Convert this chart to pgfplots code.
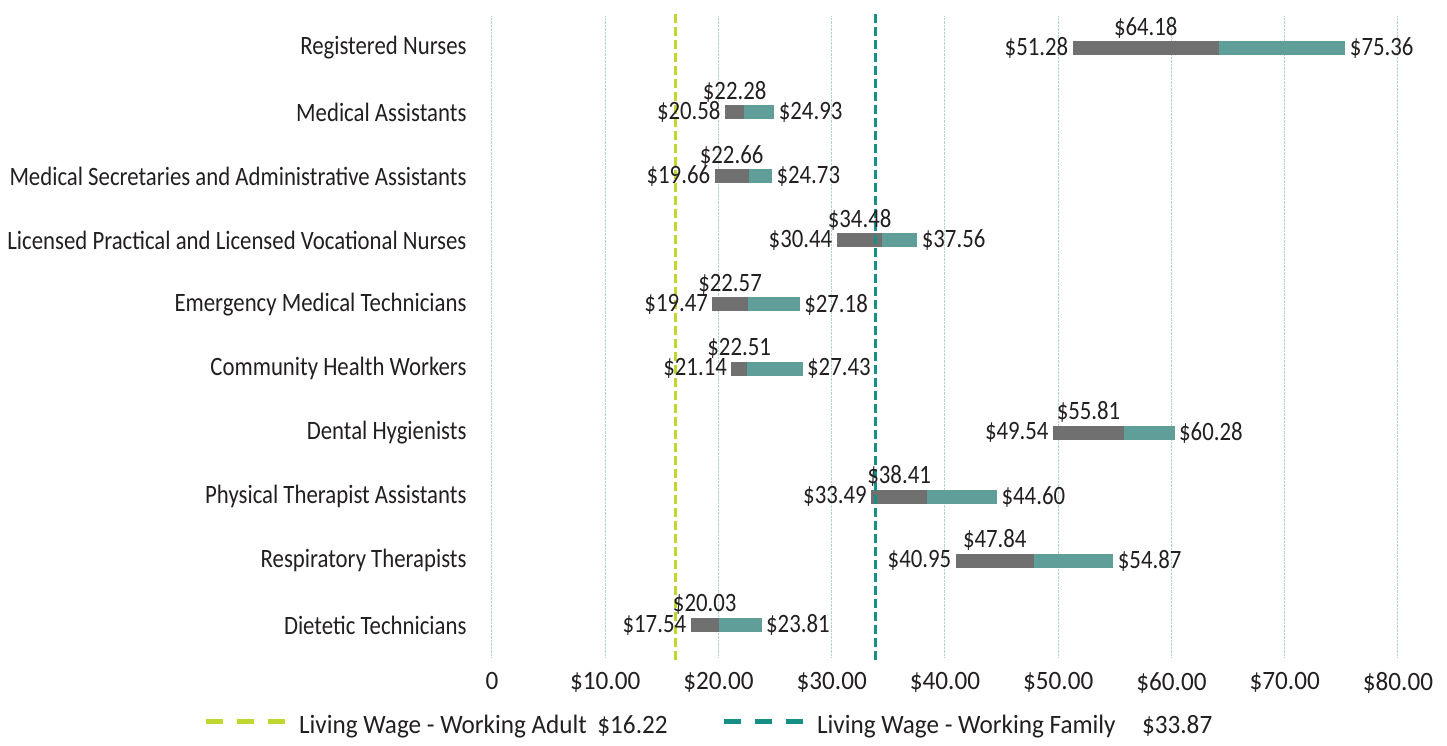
\documentclass[border=0pt]{standalone}
\usepackage{pgfplots}
\pgfplotsset{compat=1.18}
\usepackage{pgfplotstable}
\usepackage{fontspec}
\setmainfont{Carlito}[FakeStretch=0.86]
\newfontfamily\widefont{Carlito}[FakeStretch=0.95]
\definecolor{barGray}{RGB}{111,112,111}
\definecolor{barTeal}{RGB}{95,158,153}
\definecolor{lwLime}{RGB}{192,215,48}
\definecolor{lwTeal}{RGB}{22,144,134}
\definecolor{gridC}{RGB}{175,212,207}
\definecolor{txt}{RGB}{35,31,32}
\newcommand\myfont{\fontsize{26.5bp}{30bp}\selectfont}
\newcommand\mywfont{\widefont\fontsize{26.5bp}{30bp}\selectfont}
\pgfplotstableread{
idx low med high
0 51.28 64.18 75.36
1 20.58 22.28 24.93
2 19.66 22.66 24.73
3 30.44 34.48 37.56
4 19.47 22.57 27.18
5 21.14 22.51 27.43
6 49.54 55.81 60.28
7 33.49 38.41 44.60
8 40.95 47.84 54.87
9 17.54 20.03 23.81
}\wages
\begin{document}
\begin{tikzpicture}[font=\myfont, text=txt]
\useasboundingbox (-492bp,-89bp) rectangle (955bp,657bp);
\begin{axis}[
  at={(0,0)}, anchor=south west,
  scale only axis, width=906bp, height=641bp,
  xmin=0, xmax=80, ymin=-0.5, ymax=9.5,
  /pgf/number format/assume math mode=true,
  axis line style={draw=none},
  major tick length=0pt,
  xtick={0,10,...,80},
  xticklabels={0,\$10.00,\$20.00,\$30.00,\$40.00,\$50.00,\$60.00,\$70.00,\$80.00},
  ytick={0,...,9},
  yticklabels={Dietetic Technicians,Respiratory Therapists,Physical Therapist Assistants,Dental Hygienists,Community Health Workers,Emergency Medical Technicians,Licensed Practical and Licensed Vocational Nurses,Medical Secretaries and Administrative Assistants,Medical Assistants,Registered Nurses},
  xmajorgrids, ymajorgrids=false,
  major grid style={densely dotted, gridC, line width=1bp},
  tick label style={font=\myfont, text=txt},
  yticklabel style={xshift=-22bp},
  xticklabel style={yshift=-12bp, font=\mywfont},
  clip=false,
  legend style={at={(0.2395,-0.106)}, anchor=center, draw=none, fill=none, legend columns=2,
    /tikz/every even column/.append style={column sep=52bp}, font=\mywfont, text=txt},
  legend cell align=left,
  legend image code/.code={\path[draw=none] (0,0) -- (91bp,0); \draw[#1, line width=5bp, dash pattern=on 17bp off 14bp] (0,0) -- (79bp,0);},
  error bars/error mark=none,
]
% gray segment low -> med
\addplot[draw=none, mark=none, forget plot,
  error bars/.cd, x dir=plus, x explicit,
  error bar style={line width=14bp, barGray}]
  table[x=low, y expr=9-\thisrow{idx}, x error expr=\thisrow{med}-\thisrow{low}] {\wages};
% teal segment med -> high
\addplot[draw=none, mark=none, forget plot,
  error bars/.cd, x dir=plus, x explicit,
  error bar style={line width=14bp, barTeal}]
  table[x=med, y expr=9-\thisrow{idx}, x error expr=\thisrow{high}-\thisrow{med}] {\wages};
% labels
\addplot[draw=none, mark=none, forget plot, point meta=explicit,
  nodes near coords={\$\pgfmathprintnumber[fixed,fixed zerofill,precision=2,assume math mode=true]{\pgfplotspointmeta}},
  every node near coord/.append style={anchor=east, xshift=-1bp, font=\myfont, text=txt}]
  table[x=low, y expr=9-\thisrow{idx}, meta=low] {\wages};
\addplot[draw=none, mark=none, forget plot, point meta=explicit,
  nodes near coords={\$\pgfmathprintnumber[fixed,fixed zerofill,precision=2,assume math mode=true]{\pgfplotspointmeta}},
  every node near coord/.append style={anchor=west, xshift=1bp, font=\myfont, text=txt}]
  table[x=high, y expr=9-\thisrow{idx}, meta=high] {\wages};
\addplot[draw=none, mark=none, forget plot, point meta=explicit,
  nodes near coords={\$\pgfmathprintnumber[fixed,fixed zerofill,precision=2,assume math mode=true]{\pgfplotspointmeta}},
  every node near coord/.append style={anchor=center, font=\myfont, text=txt}]
  table[x expr=(\thisrow{low}+\thisrow{med})/2, y expr=9-\thisrow{idx}+0.32, meta=med] {\wages};
% living wage lines
\addplot[lwLime, line width=3bp, dash pattern=on 9bp off 4bp] coordinates {(16.22,-0.55) (16.22,9.55)};
\addlegendentry{Living Wage - Working Adult\hspace{0.4em}\$16.22}
\addplot[lwTeal, line width=3bp, dash pattern=on 9bp off 4bp] coordinates {(33.87,-0.55) (33.87,9.55)};
\addlegendentry{Living Wage - Working Family\hspace{1em}\$33.87}
\end{axis}
\end{tikzpicture}
\end{document}
